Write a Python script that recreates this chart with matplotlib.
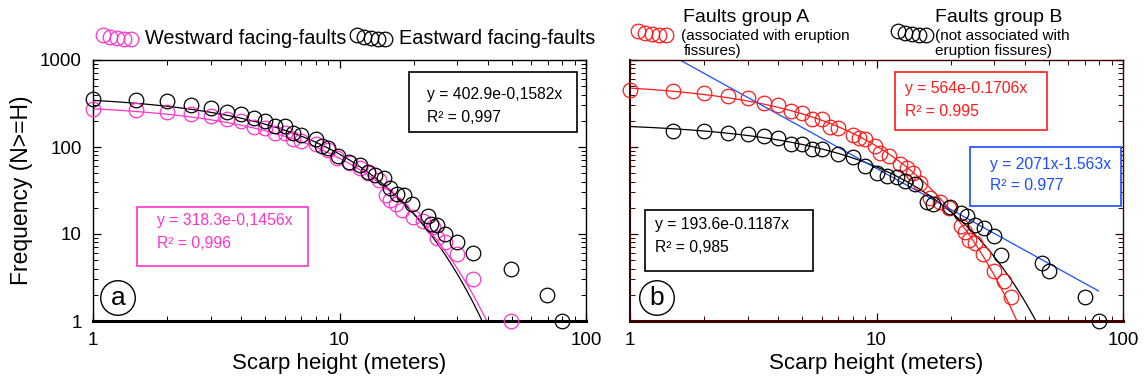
import numpy as np
import matplotlib.pyplot as plt
from matplotlib.lines import Line2D
from matplotlib.patches import Rectangle
from matplotlib.ticker import LogLocator, NullFormatter, FixedLocator, FixedFormatter

plt.rcParams['font.family'] = ['Liberation Sans', 'DejaVu Sans']

# ---------------- data ----------------
west_x = [1.0, 1.5, 2.0, 2.5, 3.0, 3.5, 4.0, 4.5, 5.0, 5.5, 6.0, 6.5, 7.0, 8.0, 9.0, 9.8,
          11.0, 12.1, 13.1, 14.4, 15.5, 16.0, 17.0, 17.9, 19.9, 21.9, 24.0, 24.8, 26.8,
          29.9, 34.7, 49.6]
west_y = [271, 264, 255, 242, 227, 212, 201, 169, 165, 146, 143, 122, 118, 107, 92, 74,
          65, 57, 50, 42, 28, 24.5, 22, 19, 15.7, 14, 12, 9.1, 8.1, 5.9, 3, 1]

east_x = [1.0, 1.5, 2.0, 2.5, 3.0, 3.5, 4.0, 4.5, 5.0, 5.5, 6.0, 6.5, 7.0, 8.0, 8.5, 9.0,
          9.9, 10.9, 12.1, 13.1, 13.9, 15.1, 16.0, 17.1, 18.2, 19.6, 22.9, 23.6, 24.8,
          26.8, 29.9, 34.9, 49.6, 69.3, 79.7]
east_y = [354, 348, 336, 307, 281, 255, 238, 214, 201, 175, 174, 144, 137, 122, 103, 98,
          79, 68, 62, 52, 48, 44, 34, 29, 28, 22, 16, 13, 12.6, 10, 8, 6, 4, 2, 1]

grpA_x = [1.0, 1.5, 2.0, 2.5, 3.0, 3.5, 4.0, 4.5, 5.0, 5.5, 6.0, 6.5, 7.0, 8.0, 8.5, 9.0,
          9.9, 10.3, 11.2, 12.5, 13.3, 14.1, 15.0, 16.5, 18.1, 19.6, 22.0, 22.9, 23.8,
          25.1, 27.1, 30.0, 32.9, 35.0]
grpA_y = [454, 435, 416, 387, 361, 318, 302, 259, 249, 212, 208, 171, 166, 139, 127, 124,
          102, 86, 78, 63, 57, 50, 39, 26, 23.5, 19.7, 12.5, 10.5, 8.5, 7.9, 5.9, 3.8,
          2.9, 1.9]

grpB_x = [1.5, 2.0, 2.5, 3.0, 3.5, 4.0, 4.5, 5.0, 5.5, 6.0, 7.0, 8.0, 9.0, 10.0, 11.0,
          12.1, 13.1, 14.3, 16.0, 17.0, 19.9, 22.0, 23.2, 25.1, 27.3, 30.0, 32.0, 47.1,
          50.3, 70.2, 80.0]
grpB_y = [152, 151, 143, 141, 133, 127, 109, 108, 96, 95, 84, 77, 60, 50, 47, 45, 41,
          38, 23.5, 22, 20.2, 17.5, 16, 12.6, 11.6, 9.6, 5.8, 4.7, 3.8, 1.9, 1]

# exponential fits  y = A * exp(-b x)
fit_east = (402.9, 0.1582)
fit_west = (318.3, 0.1456)
fit_A = (564.0, 0.1706)
fit_B = (193.6, 0.1187)
# power fit y = C * x^-k
fit_pow = (2071.0, 1.563)
pow_range = (1.0, 79.4)

x_ticks = [1, 10, 100]
x_tick_labels = ['1', '10', '100']
y_ticks = [1, 10, 100, 1000]
y_tick_labels = ['1', '10', '100', '1000']

PINK = '#ff33cc'
RED = '#ff1a1a'
BLUE = '#1a4dff'
DARKRED = '#3d0000'

W, H = 1145, 383
fig = plt.figure(figsize=(W / 100, H / 100), dpi=100)


def px_axes(x0, y0, x1, y1):
    return fig.add_axes([x0 / W, 1 - y1 / H, (x1 - x0) / W, (y1 - y0) / H])


axA = px_axes(93, 60, 586, 321)
axB = px_axes(630, 60, 1123, 321)

MS = 10.5
mk = dict(marker='o', ms=MS, mfc='none', mew=0.9, ls='none', clip_on=False, zorder=3)
xs = np.logspace(0, 2, 600)

# ---- panel a ----
axA.plot(xs, fit_west[0] * np.exp(-fit_west[1] * xs), color=PINK, lw=0.9)
axA.plot(xs, fit_east[0] * np.exp(-fit_east[1] * xs), color='black', lw=0.9)
axA.plot(west_x, west_y, mec=PINK, **mk)
axA.plot(east_x, east_y, mec='black', **mk)

# ---- panel b ----
axB.plot(xs, fit_A[0] * np.exp(-fit_A[1] * xs), color=RED, lw=0.9)
axB.plot(xs, fit_B[0] * np.exp(-fit_B[1] * xs), color='black', lw=0.9)
xp = np.logspace(np.log10(pow_range[0]), np.log10(pow_range[1]), 200)
axB.plot(xp, fit_pow[0] * xp ** (-fit_pow[1]), color=BLUE, lw=0.9)
axB.plot(grpA_x, grpA_y, mec=RED, **mk)
axB.plot(grpB_x, grpB_y, mec='black', **mk)

for ax, col in ((axA, 'black'), (axB, DARKRED)):
    ax.set_xscale('log')
    ax.set_yscale('log')
    ax.set_xlim(1, 100)
    ax.set_ylim(1, 1000)
    ax.xaxis.set_major_locator(FixedLocator(x_ticks))
    ax.xaxis.set_major_formatter(FixedFormatter(x_tick_labels))
    ax.xaxis.set_minor_locator(LogLocator(base=10, subs=np.arange(2, 10)))
    ax.xaxis.set_minor_formatter(NullFormatter())
    ax.yaxis.set_major_locator(FixedLocator(y_ticks))
    ax.yaxis.set_minor_locator(LogLocator(base=10, subs=np.arange(2, 10)))
    ax.yaxis.set_minor_formatter(NullFormatter())
    ax.tick_params(which='both', direction='in', top=True, right=True, color=col,
                   labelsize=13.5, pad=8)
    ax.tick_params(which='major', length=6, width=0.9)
    ax.tick_params(which='minor', length=3.5, width=0.7)
    for s in ax.spines.values():
        s.set_color(col)
        s.set_linewidth(1.0)
    ax.spines['bottom'].set_linewidth(2.2)
    ax.set_xlabel('Scarp height (meters)', fontsize=16, labelpad=3)

axA.yaxis.set_major_formatter(FixedFormatter(y_tick_labels))
axB.yaxis.set_major_formatter(NullFormatter())
axA.set_ylabel('Frequency (N>=H)', fontsize=16.5, labelpad=5)
axB.spines['left'].set_linewidth(1.5)


def to_ax(px, py):
    return (px) / 493.0, (321 - py) / 261.0


def eq_box(ax, x0, box, lines, color):
    bx0, by0, bx1, by1 = box
    ax0, ay1 = to_ax(bx0 - x0, by0)
    ax1, ay0 = to_ax(bx1 - x0, by1)
    ax.add_patch(Rectangle((ax0, ay0), ax1 - ax0, ay1 - ay0, transform=ax.transAxes,
                           fill=True, fc='white', ec=color, lw=1.2, zorder=4))
    for (tx, ty, s) in lines:
        px, py = to_ax(tx - x0, ty)
        ax.text(px, py, s, transform=ax.transAxes, color=color, fontsize=11.3,
                va='center', ha='left', zorder=5)


eq_box(axA, 93, (409, 72, 577, 132),
       [(427, 95, 'y = 402.9e-0,1582x'), (427, 118, 'R² = 0,997')], 'black')
eq_box(axA, 93, (137, 207, 308, 266),
       [(157, 220, 'y = 318.3e-0,1456x'), (157, 243, 'R² = 0,996')], PINK)
eq_box(axB, 630, (895, 72, 1047, 130),
       [(905, 89, 'y = 564e-0.1706x'), (905, 112, 'R² = 0.995')], RED)
eq_box(axB, 630, (970, 147, 1121, 206),
       [(990, 164, 'y = 2071x-1.563x'), (990, 186, 'R² = 0.977')], BLUE)
eq_box(axB, 630, (645, 210, 813, 271),
       [(655, 225, 'y = 193.6e-0.1187x'), (655, 248, 'R² = 0,985')], 'black')

# panel letters
for ax, x0, cx, letter in ((axA, 93, 118, 'a'), (axB, 630, 657, 'b')):
    px, py = to_ax(cx - x0, 298)
    ax.text(px, py, letter, transform=ax.transAxes, fontsize=19, ha='center', va='center',
            zorder=6, bbox=dict(boxstyle='circle,pad=0.2', fc='white', ec='black', lw=1.0))


# legend-like headers (figure pixel coordinates)
def icon(cx, cy, color):
    offs = [-14, -7, 0, 7, 14]
    dys = [-2, 0, 1, 2, 2]
    for o, d in zip(offs, dys):
        fig.add_artist(Line2D([(cx + o) / W], [1 - (cy + d) / H], marker='o', ms=MS,
                              mfc='none', mec=color, mew=0.9, ls='none',
                              transform=fig.transFigure))


icon(117, 37, PINK)
fig.text(145 / W, 1 - 38 / H, 'Westward facing-faults', fontsize=14.3, va='center', ha='left')
icon(371, 37, 'black')
fig.text(399 / W, 1 - 38 / H, 'Eastward facing-faults', fontsize=14.3, va='center', ha='left')

icon(652, 33, RED)
fig.text(683 / W, 1 - 17 / H, 'Faults group A', fontsize=14, va='center', ha='left')
fig.text(681 / W, 1 - 36 / H, '(associated with eruption', fontsize=11, va='center', ha='left')
fig.text(684 / W, 1 - 51 / H, 'fissures)', fontsize=11, va='center', ha='left')

icon(912, 33, 'black')
fig.text(935 / W, 1 - 17 / H, 'Faults group B', fontsize=14, va='center', ha='left')
fig.text(935 / W, 1 - 36 / H, '(not associated with', fontsize=11, va='center', ha='left')
fig.text(935 / W, 1 - 51 / H, 'eruption fissures)', fontsize=11, va='center', ha='left')

fig.savefig('out.png', dpi=100)
